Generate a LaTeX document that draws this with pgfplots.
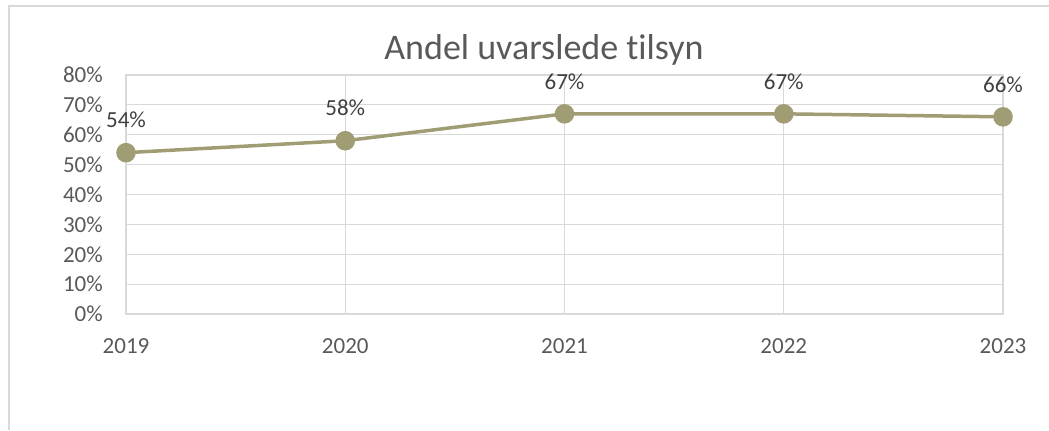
\documentclass[border=0pt]{standalone}
\usepackage{pgfplots}
\pgfplotsset{compat=1.18}
\usepackage{fontspec}
\setmainfont{Carlito}[Ligatures=NoCommon]
\definecolor{linec}{HTML}{A09C74}
\definecolor{gridc}{HTML}{D9D9D9}
\definecolor{txt}{HTML}{595959}
\definecolor{lab}{HTML}{404040}
\begin{document}
\begin{tikzpicture}[x=1bp,y=1bp]
\useasboundingbox (0,0) rectangle (1049,430);
\draw[gridc, line width=1.5bp] (9,0) -- (9,424) -- (1049,424);
\node[text=txt, font=\fontsize{36bp}{42bp}\selectfont, inner sep=0] at (544,380) {Andel uvarslede tilsyn};
\begin{axis}[at={(126bp,116bp)}, anchor=south west, scale only axis,
  width=877bp, height=239bp,
  xmin=2019, xmax=2023, ymin=0, ymax=80,
  xtick={2019,2020,2021,2022,2023}, xticklabels={2019,2020,2021,2022,2023},
  ytick={0,10,20,30,40,50,60,70,80},
  yticklabels={0\%,10\%,20\%,30\%,40\%,50\%,60\%,70\%,80\%},
  tick label style={font=\fontsize{23bp}{27bp}\selectfont, text=txt, inner sep=0},
  yticklabel style={anchor=east, xshift=-23bp},
  xticklabel style={anchor=center, yshift=-32bp},
  major tick length=0,
  grid=major, grid style={gridc, line width=1.2bp},
  axis line style={gridc, line width=1.2bp},
  clip=false,
  point meta=explicit symbolic,
  nodes near coords,
  every node near coord/.append style={anchor=center, yshift=32.5bp, inner sep=0,
    font=\fontsize{23bp}{27bp}\selectfont, text=lab},
]
\addplot[color=linec, line width=3.5bp, mark=*, mark size=8bp,
  mark options={fill=linec, draw=none}]
  coordinates {(2019,54) [54\%] (2020,58) [58\%] (2021,67) [67\%] (2022,67) [67\%] (2023,66) [66\%]};
\end{axis}
\end{tikzpicture}
\end{document}
